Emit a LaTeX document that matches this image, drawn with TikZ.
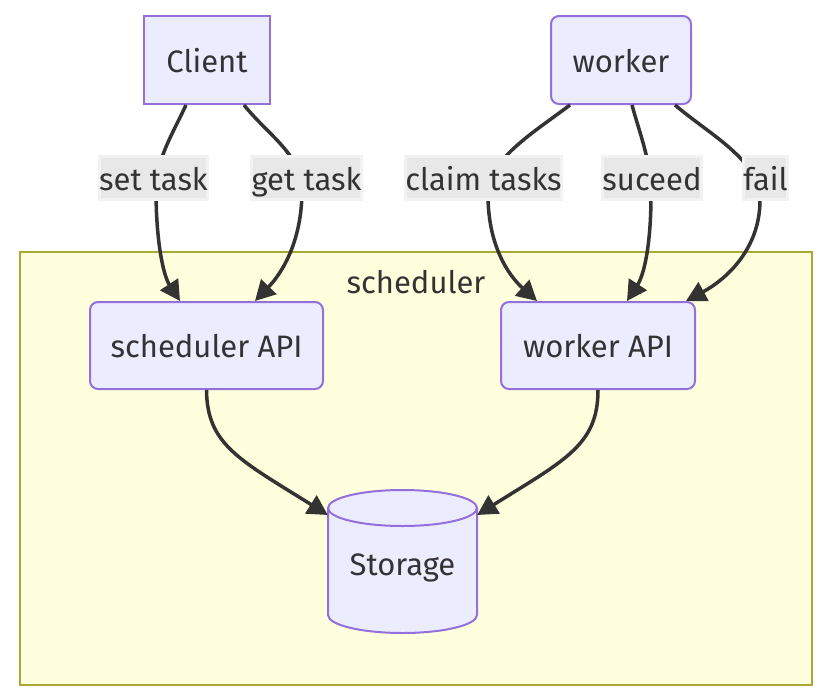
\documentclass[tikz,border=0pt]{standalone}
\usepackage{fontspec}
\setmainfont{Fira Sans}
\usetikzlibrary{arrows.meta}
\definecolor{nodefill}{HTML}{ECECFF}
\definecolor{nodeline}{HTML}{9370DB}
\definecolor{txt}{HTML}{333333}
\definecolor{subfill}{HTML}{FFFFDE}
\definecolor{subline}{HTML}{AAAA33}
\definecolor{lblfill}{HTML}{E8E8E8}
\definecolor{lblline}{HTML}{F2F2F2}
\tikzset{
  fnt/.style={font=\fontsize{31}{36}\selectfont, text height=26pt, text depth=2pt},
  box/.style={draw=nodeline, fill=nodefill, line width=2pt, text=txt, fnt, inner sep=0pt},
  rbox/.style={box, rounded corners=8pt},
  lbl/.style={fill=lblfill, draw=lblline, line width=3pt, text=txt, fnt, inner xsep=0pt, inner ysep=0pt, minimum height=43pt},
  edge/.style={draw=txt, line width=3.5pt, -{Triangle[length=20pt,width=21pt]}},
  sub/.style={draw=subline, fill=subfill, line width=2pt}
}
\begin{document}
\begin{tikzpicture}[x=1pt,y=-1pt]
\useasboundingbox (0,0) rectangle (832,696);
\fill[white] (0,0) rectangle (832,696);
% subgraph
\draw[sub] (20,252) rectangle (812,685);
\node[text=txt, fnt] (schedlabel) at (416,281) {scheduler};
% nodes
\node[box, minimum width=126pt, minimum height=88pt] (client) at (207,60) {Client};
\node[rbox, minimum width=140pt, minimum height=88pt] (worker) at (621,60) {worker};
\node[rbox, minimum width=233pt, minimum height=87pt] (schedapi) at (206.5,345.5) {scheduler API};
\node[rbox, minimum width=194pt, minimum height=87pt] (workerapi) at (598,345.5) {worker API};
% storage cylinder
\node[minimum width=149pt, minimum height=143pt, inner sep=0pt] (storage) at (402.5,561.5) {};
\filldraw[draw=nodeline, fill=nodefill, line width=2pt]
  (328,508) -- (328,615) arc (180:360:74.5pt and 18pt) -- (477,508) arc (0:180:74.5pt and 18pt) -- cycle;
\draw[draw=nodeline, line width=2pt] (328,508) arc (180:360:74.5pt and 18pt);
\node[text=txt, fnt] (storagetext) at (402.5,563) {Storage};
% label positions
\coordinate (l1) at (153.5,178);
\coordinate (l2) at (306.5,178);
\coordinate (l3) at (483.5,178);
\coordinate (l4) at (652,178);
\coordinate (l5) at (765.5,178);
% edges
\draw[edge] ([xshift=-21pt]client.south) .. controls (172,135) and (156,160) .. (156,190)
  .. controls (156,240) and (163,275) .. ([xshift=-26.5pt]schedapi.north);
\draw[edge] ([xshift=37pt]client.south) .. controls (268,135) and (302,155) .. (302,190)
  .. controls (302,240) and (283,272) .. ([xshift=48.5pt]schedapi.north);
\draw[edge] ([xshift=-51pt]worker.south) .. controls (530,135) and (488,160) .. (488,195)
  .. controls (488,245) and (508,275) .. ([xshift=-61pt]workerapi.north);
\draw[edge] ([xshift=11pt]worker.south) .. controls (640,135) and (651,160) .. (651,195)
  .. controls (651,245) and (644,275) .. ([xshift=29pt]workerapi.north);
\draw[edge] ([xshift=54pt]worker.south) .. controls (710,135) and (760,160) .. (760,200)
  .. controls (760,250) and (725,280) .. ([xshift=88pt]workerapi.north);
\draw[edge] (schedapi.south) .. controls (207,445) and (240,460) .. ([yshift=46.5pt]storage.west);
\draw[edge] (workerapi.south) .. controls (598,445) and (565,460) .. ([yshift=46.5pt]storage.east);
% labels
\node[lbl] (lab1) at (l1) {set task};
\node[lbl] (lab2) at (l2) {get task};
\node[lbl] (lab3) at (l3) {claim tasks};
\node[lbl] (lab4) at (l4) {suceed};
\node[lbl] (lab5) at (l5) {fail};
\end{tikzpicture}
\end{document}
